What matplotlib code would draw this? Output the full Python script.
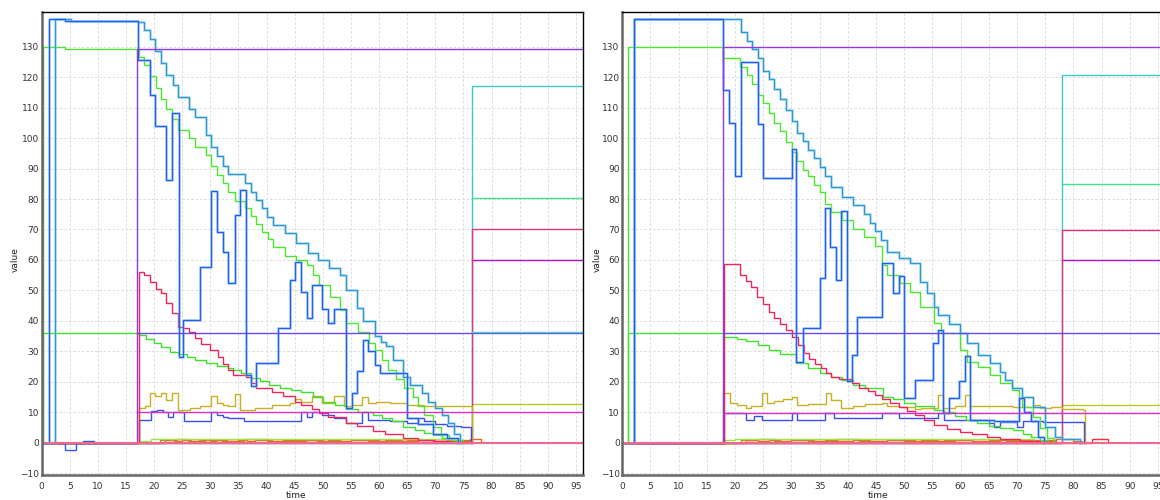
import matplotlib
matplotlib.use("Agg")
import matplotlib.pyplot as plt
import matplotlib.transforms as mtransforms

# ---- data: (time, value) step points ----
XMAX = 96.3

# panel (a)
a_green_hi = [(0, 0), (0.3, 130), (4.2, 129.3), (17.3, 126.7), (18.2, 123.9), (19.3, 120.3),
              (20.3, 116.5), (21.2, 112.8), (22.2, 109.7), (23.2, 106.2), (24.3, 102.6),
              (26.2, 100.1), (27.3, 97.1), (29.2, 94.4), (30.1, 90.9), (31.2, 87.9),
              (32.2, 85.1), (33.2, 82.2), (34.3, 79.4), (36.2, 76.9), (37.2, 74.4),
              (38.2, 71.8), (39.2, 69.1), (40.2, 66.9), (41.2, 64.2), (43.3, 61.3),
              (45.2, 60.0), (47.2, 58.5), (48.3, 55.1), (49.4, 51.8), (51.3, 48.0),
              (53.0, 43.6), (54.2, 39.2), (56.3, 36.2), (58.2, 32.7), (59.3, 30.5),
              (60.5, 27.0), (61.5, 24.0), (63.0, 21.0), (64.5, 18.0), (66.0, 15.0),
              (67.0, 12.0), (68.0, 9.0), (69.6, 5.0), (71.0, 2.6), (72.5, 1.0), (74.0, 0)]
a_lblue = [(0, 0), (2.3, 139), (5.2, 138.3), (17.2, 138.1), (18.2, 135.4), (19.3, 132.7),
           (20.2, 128.6), (21.2, 124.8), (22.2, 120.7), (23.3, 117.4), (24.3, 113.5),
           (26.2, 109.5), (27.3, 106.8), (29.2, 101.0), (30.2, 97.1), (31.2, 94.1),
           (32.2, 90.8), (33.2, 88.2), (36.2, 85.1), (37.2, 82.4), (38.1, 79.7),
           (39.1, 76.9), (40.1, 74.2), (41.2, 71.5), (43.3, 68.8), (45.2, 65.5),
           (47.4, 62.2), (49.2, 60.0), (51.1, 57.5), (53.0, 55.1), (54.2, 50.0),
           (56.0, 44.2), (57.2, 40.0), (59.3, 34.9), (60.3, 33.0), (61.3, 31.6),
           (62.5, 27.0), (64.3, 21.7), (65.5, 19.0), (67.6, 16.3), (68.7, 13.5),
           (69.9, 11.4), (71.1, 9.0), (72.3, 6.5), (73.4, 3.0), (74.4, 0)]
a_dblue = [(0, 0), (1.3, 139), (4.2, 138.3), (17.2, 125.8), (19.3, 114.3), (20.2, 103.9),
           (22.2, 86.2), (23.2, 108.2), (24.4, 28.3), (25.2, 40.3), (28.2, 57.8),
           (30.2, 82.7), (31.2, 69.3), (32.2, 62.7), (33.2, 52.4), (34.3, 74.8),
           (35.3, 83.0), (36.3, 22.3), (37.3, 18.5), (38.2, 26.1), (42.1, 37.6),
           (44.2, 53.4), (45.1, 59.4), (46.2, 49.6), (47.1, 40.9), (48.0, 51.8),
           (49.9, 43.8), (51.0, 39.2), (52.0, 43.8), (54.2, 11.4), (55.1, 16.3),
           (56.1, 23.4), (57.2, 33.8), (58.0, 30.0), (59.3, 25.6), (60.2, 22.9),
           (64.9, 8.0), (67.0, 6.0), (69.5, 3.0), (72.0, 1.5), (74.0, 0)]
a_blue0 = [(0, 0), (4.2, -2.3), (6.2, 0), (7.3, 0.5), (9.3, 0)]
a_green_lo = [(0, 0), (0.3, 36), (17.3, 35.5), (18.5, 34.2), (19.9, 32.7), (21.3, 31.3),
              (22.8, 29.9), (24.3, 29.0), (25.8, 28.3), (27.3, 27.3), (29.3, 26.1),
              (31.2, 25.2), (33.2, 24.4), (34.1, 23.9), (35.5, 22.8), (37.2, 21.3),
              (38.8, 20.1), (40.5, 19.0), (42.4, 17.9), (44.3, 17.3), (46.2, 16.8),
              (48.2, 15.0), (50.1, 13.5), (52.2, 12.3), (54.2, 11.0), (56.3, 10.2),
              (59.0, 9.2), (60.5, 8.2), (62.3, 7.0), (64.3, 5.3), (66.3, 4.2),
              (68.0, 3.3), (69.6, 2.6), (71.2, 1.5), (73.0, 0.8), (75.0, 0)]
a_red = [(0, 0), (17.3, 56.2), (18.2, 55.0), (19.3, 52.9), (20.3, 50.5), (21.3, 49.1),
         (22.2, 46.0), (23.2, 42.5), (24.3, 38.1), (25.2, 37.5), (26.2, 36.5), (27.3, 34.3),
         (28.3, 32.5), (29.9, 30.5), (31.3, 28.3), (32.3, 26.0), (33.2, 24.0), (34.1, 22.3),
         (36.3, 21.5), (37.2, 19.5), (38.2, 18.0), (40.0, 17.9), (41.0, 16.5), (43.0, 15.2),
         (45.0, 13.5), (46.2, 12.5), (48.0, 11.0), (49.3, 9.7), (51.0, 8.5), (54.2, 6.5),
         (56.0, 5.5), (59.0, 3.7), (61.0, 3.0), (64.3, 1.5), (67.0, 1.0), (69.6, 0.5),
         (73.0, 0.2), (76.5, 0)]
a_yellow = [(0, 0), (17.3, 11.4), (18.3, 12.0), (19.3, 16.3), (20.2, 15.4), (21.3, 16.3),
            (22.2, 13.9), (23.2, 16.3), (24.3, 10.7), (26.3, 11.3), (28.2, 12.0),
            (30.1, 15.4), (31.2, 13.0), (32.3, 12.5), (33.2, 12.2), (34.3, 15.9),
            (35.3, 10.7), (38.0, 11.5), (41.0, 12.3), (44.2, 13.0), (45.1, 14.2),
            (46.2, 13.5), (48.0, 15.4), (49.9, 13.0), (52.0, 15.4), (53.8, 12.0),
            (55.2, 12.5), (57.0, 15.0), (58.1, 13.0), (59.5, 13.3), (62.0, 13.0),
            (64.9, 12.5), (68.0, 12.2), (72.0, 12.0), (76.6, 0)]
a_blue_lo = [(0, 0), (17.3, 7.3), (19.4, 10.3), (20.5, 10.8), (21.5, 10.2), (22.5, 8.5),
             (23.4, 10.2), (24.3, 10.0), (25.3, 7.2), (30.1, 10.0), (31.2, 9.0),
             (32.2, 8.5), (33.2, 8.0), (36.0, 7.2), (46.2, 10.0), (47.2, 8.5), (48.0, 10.0),
             (49.9, 9.0), (52.0, 8.0), (54.2, 6.5), (57.0, 10.0), (58.1, 7.5), (62.0, 7.0),
             (65.0, 6.5), (67.0, 8.0), (68.0, 7.0), (70.0, 6.0), (72.0, 5.5), (74.5, 5.0),
             (76.3, 0)]
a_lgreen = [(0, 0), (17.3, 0.7), (19.5, 1.2), (72.5, 0)]
a_orange = [(0, 0), (22, 1.0), (23.5, 0.4), (25, 1.0), (26.5, 0.5), (28, 0.9), (30, 0.4),
            (31, 1.0), (33, 0.5), (35, 1.0), (36.5, 0.4), (38, 0.9), (41, 0.5), (43, 1.0),
            (45, 0.6), (47, 1.0), (49, 0.5), (51, 1.0), (53, 0.4), (55, 0.9), (58, 0.5),
            (61, 1.0), (64, 0.5), (67, 0.9), (70, 0.5), (72, 1.0), (74, 0.6), (76.1, 1.3),
            (78.2, 0)]
a_olive = [(0, 0), (21, 0.8), (24, 1.1), (26, 0.6), (29, 1.0), (32, 0.7), (36, 1.1),
           (40, 0.7), (45, 1.0), (50, 0.6), (55, 1.0), (60, 0.7), (65, 1.0), (70, 0.6),
           (74, 0.9), (76.5, 0)]
a_purple_top = [(0, 0), (17.0, 129.2), (XMAX, 129.2)]
a_violet = [(17.0, 35.9), (XMAX, 35.9)]
a_magenta = [(17.0, 10.2), (XMAX, 10.2)]
a_teal = [(0, 0), (76.6, 117.0), (XMAX, 117.0)]
a_teal2 = [(76.6, 36.5), (XMAX, 36.5)]
a_spring = [(76.6, 80.4), (XMAX, 80.4)]
a_crimson = [(0, 0), (76.6, 70.0), (XMAX, 70.0)]
a_purple60 = [(76.6, 59.9), (XMAX, 59.9)]
a_ygreen = [(76.6, 12.7), (XMAX, 12.7)]
a_base = [(0, 0), (XMAX, 0)]

# panel (b)
b_green_hi = [(0, 0), (1.1, 130), (17.9, 126.2), (20.9, 123.2), (22.1, 120.6), (23.0, 117.9),
              (24.0, 114.1), (25.0, 111.4), (26.0, 108.4), (27.0, 105.1), (28.0, 102.2),
              (29.0, 98.6), (30.1, 95.3), (31.0, 92.6), (32.0, 89.6), (33.0, 87.5),
              (34.0, 84.7), (35.0, 82.2), (36.0, 78.5), (37.0, 75.7), (38.9, 73.1),
              (41.0, 70.3), (42.9, 67.6), (44.9, 64.6), (46.1, 58.3), (46.9, 55.1),
              (49.3, 52.3), (51.0, 49.6), (52.8, 44.7), (55.2, 39.2), (56.6, 35.9),
              (59.9, 30.5), (61.1, 26.6), (63.1, 25.0), (65.2, 22.3), (67.0, 19.5),
              (69.1, 17.3), (70.3, 14.6), (70.8, 11.8), (72.9, 8.6), (74.1, 4.8),
              (75.3, 1.5), (76.5, 0)]
b_lblue = [(0, 0), (2.1, 139), (21.0, 134.9), (22.1, 131.9), (23.0, 129.1), (24.0, 126.2),
           (25.0, 122.1), (26.0, 119.3), (27.0, 116.0), (28.0, 112.7), (29.0, 109.2),
           (30.1, 105.7), (31.0, 101.8), (32.0, 99.0), (33.0, 96.1), (34.0, 93.6),
           (35.0, 90.6), (36.0, 87.7), (37.0, 84.1), (38.9, 80.8), (41.0, 78.0),
           (42.9, 75.1), (43.9, 72.2), (44.9, 69.6), (45.9, 66.6), (46.9, 62.7),
           (49.0, 60.5), (51.0, 58.9), (52.8, 52.9), (54.0, 49.0), (55.2, 44.7),
           (56.0, 41.9), (58.0, 39.0), (59.9, 35.9), (61.1, 32.7), (63.1, 28.8),
           (65.2, 26.1), (67.0, 23.3), (67.9, 20.6), (69.1, 17.9), (70.8, 15.1),
           (72.9, 11.8), (75.0, 5.3), (76.7, 2.0), (78.0, 1.2), (81.1, 0)]
b_dblue = [(0, 0), (2.1, 139), (17.9, 115.7), (19.0, 105.1), (20.0, 87.6), (21.0, 125.1),
           (24.0, 104.5), (25.0, 87.0), (30.1, 96.4), (30.9, 26.6), (32.0, 37.6),
           (35.0, 54.0), (36.0, 77.0), (36.9, 64.4), (37.9, 53.4), (38.8, 76.2),
           (39.8, 20.1), (40.8, 28.8), (41.7, 41.4), (46.1, 58.9), (48.0, 49.1),
           (49.0, 54.7), (50.0, 14.6), (51.9, 20.6), (55.1, 32.7), (56.0, 37.0),
           (56.9, 9.7), (57.9, 14.6), (59.8, 20.1), (60.7, 28.5), (61.7, 7.3),
           (66.0, 7.0), (70.3, 14.6), (71.2, 10.0), (72.5, 7.0), (73.8, 2.0), (74.8, 0)]
b_green_lo = [(0, 0), (1.1, 36), (17.9, 34.8), (20.3, 34.2), (22.0, 33.3), (24.0, 32.0),
              (26.0, 30.5), (28.0, 29.0), (30.9, 26.1), (33.0, 24.5), (35.0, 23.0),
              (37.1, 21.7), (39.0, 20.5), (41.0, 19.0), (43.0, 17.8), (46.3, 15.1),
              (48.0, 14.3), (50.0, 13.2), (52.0, 12.2), (55.2, 10.8), (57.0, 10.0),
              (59.0, 8.8), (61.0, 7.5), (62.9, 6.4), (65.0, 5.5), (67.0, 4.8), (69.3, 4.2),
              (71.0, 3.0), (72.5, 2.0), (74.1, 0.9), (75.5, 0)]
b_red = [(0, 0), (18.0, 58.6), (20.9, 55.1), (21.9, 53.0), (22.9, 51.0), (23.9, 48.0),
         (25.0, 45.6), (26.0, 43.0), (27.0, 41.0), (28.0, 39.0), (29.0, 37.0), (30.1, 34.8),
         (31.1, 32.0), (32.2, 29.4), (33.2, 27.5), (34.2, 26.0), (35.2, 24.5), (36.1, 23.0),
         (37.1, 21.7), (38.5, 20.8), (40.8, 19.5), (42.0, 18.0), (43.5, 17.0), (44.9, 15.7),
         (46.0, 14.5), (47.5, 13.0), (49.0, 11.8), (50.5, 10.5), (52.0, 9.0), (53.5, 7.5),
         (55.2, 5.8), (57.5, 4.5), (59.9, 3.6), (62.0, 2.8), (64.6, 2.0), (67.0, 1.3),
         (70.5, 0.7), (74.0, 0.3), (76.0, 0)]
b_yellow = [(0, 0), (17.9, 16.2), (19.1, 13.2), (20.3, 12.5), (21.9, 11.3), (22.8, 12.1),
            (24.8, 16.4), (25.6, 13.2), (27.0, 13.8), (28.5, 14.5), (30.1, 15.1),
            (31.0, 12.5), (33.0, 12.6), (36.1, 16.2), (37.0, 14.0), (38.8, 11.5),
            (41.0, 12.2), (43.0, 12.6), (46.1, 13.2), (47.0, 12.2), (49.0, 11.8),
            (51.9, 11.0), (53.0, 11.5), (56.0, 15.7), (56.9, 11.5), (59.0, 12.2),
            (60.7, 15.7), (61.7, 12.0), (66.0, 12.2), (69.3, 11.8), (73.0, 12.5),
            (74.0, 11.5), (76.0, 11.8), (78.0, 11.2), (81.7, 10.8), (82.0, 0)]
b_blue_lo = [(0, 0), (18.0, 9.9), (20.3, 9.7), (21.9, 7.3), (23.4, 8.8), (24.8, 7.5),
             (30.1, 9.8), (31.0, 7.3), (36.0, 9.8), (37.5, 8.0), (46.0, 9.8), (49.0, 8.0),
             (56.0, 9.8), (57.0, 7.5), (61.7, 7.3), (65.0, 6.5), (66.0, 5.2), (67.0, 6.8),
             (70.0, 5.0), (71.0, 7.2), (74.6, 6.9), (81.9, 0)]
b_lgreen = [(0, 0), (18.0, 0.8), (20.0, 1.2), (73.0, 0.6), (75.0, 0)]
b_orange = [(0, 0), (22, 1.0), (24, 0.4), (26, 1.0), (28, 0.5), (30, 1.0), (33, 0.5),
            (36, 1.0), (38, 0.5), (41, 0.9), (44, 0.5), (47, 1.0), (50, 0.5), (53, 0.9),
            (56, 0.5), (59, 1.0), (62, 0.5), (65, 0.9), (68, 0.5), (71, 1.0), (74, 0.5),
            (77, 1.2), (80, 0.6), (81.5, 0)]
b_olive = [(0, 0), (21, 0.8), (24, 1.1), (27, 0.6), (30, 1.0), (34, 0.7), (38, 1.1),
           (42, 0.7), (47, 1.0), (52, 0.6), (57, 1.0), (62, 0.7), (67, 1.0), (71, 0.6),
           (75, 0.9), (77, 0)]
b_redbump = [(0, 0), (83.3, 1.2), (86.2, 0)]
b_purple_top = [(0, 0), (17.9, 129.8), (XMAX, 129.8)]
b_violet = [(18.0, 35.9), (XMAX, 35.9)]
b_magenta = [(18.0, 9.7), (XMAX, 9.7)]
b_teal = [(0, 0), (77.9, 120.7), (XMAX, 120.7)]
b_spring = [(77.9, 84.9), (XMAX, 84.9)]
b_crimson = [(0, 0), (77.9, 69.8), (XMAX, 69.8)]
b_purple60 = [(77.9, 60.0), (XMAX, 60.0)]
b_ygreen = [(77.9, 12.4), (XMAX, 12.4)]
b_base = [(0, 0), (XMAX, 0)]

x_ticks = list(range(0, 96, 5))
y_ticks = list(range(-10, 131, 10))


def step(ax, pts, color, lw=1.0, halo=None):
    t, v = zip(*pts)
    if halo:
        ax.step(t, v, where="post", color=halo, lw=2.2, alpha=0.45,
                solid_joinstyle="miter")
    ax.step(t, v, where="post", color=color, lw=lw, solid_joinstyle="miter")


def style_axes(ax, label_x):
    ax.set_xlim(0, XMAX)
    ax.set_ylim(-10.6, 141.4)
    ax.set_xticks(x_ticks)
    ax.set_yticks(y_ticks)
    ax.tick_params(length=0, labelsize=6.5, labelcolor="#333333")
    ax.tick_params(axis="x", pad=5)
    ax.tick_params(axis="y", pad=1.8)
    ax.grid(True, color="#dcdcdc", linestyle=(0, (2.5, 2)), lw=0.7)
    ax.set_axisbelow(True)
    for s in ["left", "bottom"]:
        ax.spines[s].set_color("#666666")
        ax.spines[s].set_linewidth(1.8)
    for s in ["top", "right"]:
        ax.spines[s].set_color("black")
        ax.spines[s].set_linewidth(1.0)
    tr = mtransforms.blended_transform_factory(ax.transData, ax.transAxes)
    ax.text(45.3, -0.045, "time", transform=tr, ha="center", va="center",
            fontsize=6.5, color="#222222")
    tr2 = mtransforms.blended_transform_factory(ax.transAxes, ax.transData)
    ax.text(label_x, 60, "value", transform=tr2, rotation=90, ha="center",
            va="center", fontsize=6.5, color="#222222")


def draw_panel(ax, d):
    step(ax, d["olive"], "#b08a18")
    step(ax, d["orange"], "#ee6622")
    step(ax, d["lgreen"], "#9ee24a")
    step(ax, d["teal"], "#3fc8c8")
    step(ax, d["spring"], "#3ee08c")
    step(ax, d["purple60"], "#a810c8")
    step(ax, d["ygreen"], "#b4cc22")
    step(ax, d["crimson"], "#e2337f")
    step(ax, d["yellow"], "#c9b020")
    step(ax, d["blue_lo"], "#3a4ff0")
    step(ax, d["green_lo"], "#3fe02c")
    step(ax, d["red"], "#f0245a")
    step(ax, d["green_hi"], "#4ae82a")
    step(ax, d["lblue"], "#2b9ad4", halo="#a6d4f0")
    step(ax, d["dblue"], "#1c62ec", halo="#9cc0f2")
    step(ax, d["magenta"], "#d830c8")
    step(ax, d["violet"], "#6a48f0")
    step(ax, d["purple_top"], "#9236e0")
    for extra in d.get("extra", []):
        step(ax, extra[0], extra[1])
    step(ax, d["base"], "#f06890", lw=1.5)


panel_a = dict(green_hi=a_green_hi, lblue=a_lblue, dblue=a_dblue, green_lo=a_green_lo,
               red=a_red, yellow=a_yellow, blue_lo=a_blue_lo, lgreen=a_lgreen,
               orange=a_orange, olive=a_olive, purple_top=a_purple_top, violet=a_violet,
               magenta=a_magenta, teal=a_teal, spring=a_spring, crimson=a_crimson,
               purple60=a_purple60, ygreen=a_ygreen, base=a_base,
               extra=[(a_teal2, "#48d0c0"), (a_blue0, "#2b5cf0")])
panel_b = dict(green_hi=b_green_hi, lblue=b_lblue, dblue=b_dblue, green_lo=b_green_lo,
               red=b_red, yellow=b_yellow, blue_lo=b_blue_lo, lgreen=b_lgreen,
               orange=b_orange, olive=b_olive, purple_top=b_purple_top, violet=b_violet,
               magenta=b_magenta, teal=b_teal, spring=b_spring, crimson=b_crimson,
               purple60=b_purple60, ygreen=b_ygreen, base=b_base,
               extra=[(b_redbump, "#ff3030")])

fig = plt.figure(figsize=(11.6, 5.0), dpi=100)
ax1 = fig.add_axes([41.6 / 1160, 25 / 500, 541.7 / 1160, 463 / 500])
ax2 = fig.add_axes([622.2 / 1160, 25 / 500, XMAX * 5.64 / 1160, 463 / 500])

draw_panel(ax1, panel_a)
style_axes(ax1, -0.049)
draw_panel(ax2, panel_b)
style_axes(ax2, -0.046)

fig.savefig("out.png", dpi=100)
